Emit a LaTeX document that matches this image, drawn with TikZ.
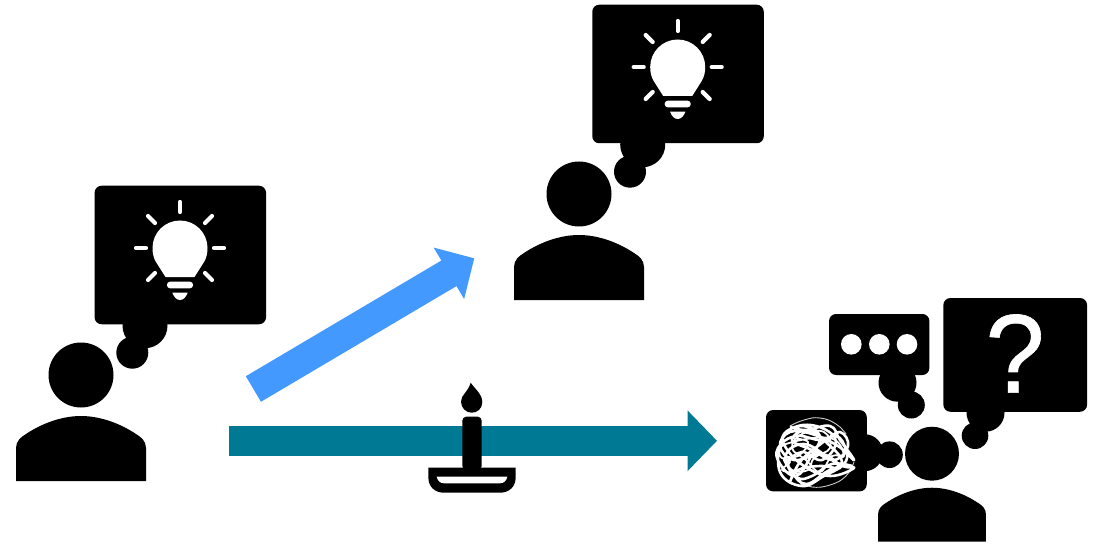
\documentclass[tikz,border=0pt]{standalone}
\usepackage{fontspec}
\setmainfont{Liberation Sans}
\newfontfamily\qfont[FakeBold=0.6]{Liberation Sans}
\usetikzlibrary{arrows.meta}
\definecolor{teal1}{HTML}{007A94}
\definecolor{blue1}{HTML}{4499FF}
\tikzset{
  x=1pt,y=-1pt,
  blob/.style={circle,fill=black,inner sep=0pt,minimum size=#1},
  bubble/.style={rectangle,fill=black,rounded corners=7pt,inner sep=0pt},
  wdot/.style={circle,fill=white,inner sep=0pt,minimum size=#1},
  ray/.style={white,line width=4.2pt,line cap=round},
  bigarrow/.style={line cap=butt},
  pics/person/.style={code={
    \node[blob=65pt,transform shape] (-head) at (0,0) {};
    \fill (-65,106) -- (-65,73) .. controls (-65,66) and (-60,62) .. (-55,59)
      .. controls (-40,49) and (-20,41) .. (0,41)
      .. controls (20,41) and (40,49) .. (55,59)
      .. controls (60,62) and (65,66) .. (65,73) -- (65,106) -- cycle;
  }},
  pics/idea/.style={code={
    \node[bubble,minimum width=171.5pt,minimum height=138.5pt] (-box) at (0,0) {};
    \node[blob=45pt] (-b1) at (-35.3,70.7) {};
    \node[blob=32pt] (-b2) at (-48,97.7) {};
    % bulb, relative to its globe at (0,-7)
    \begin{scope}[shift={(-0.3,-7)}]
      \fill[white] (-14.5,29) -- (-24,14) .. controls (-26.5,10) and (-27.5,5) .. (-27.5,0)
        arc[start angle=180,end angle=360,radius=27.5]
        .. controls (27.5,5) and (26.5,10) .. (24,14) -- (14.5,29) -- cycle;
      \fill[white,rounded corners=3pt] (-13,33.7) rectangle (13,40.3);
      \fill[white] (-7.7,44.7) -- (7.7,44.7) .. controls (6,49) and (3.5,52) .. (0,52)
        .. controls (-3.5,52) and (-6,49) .. (-7.7,44.7) -- cycle;
      \draw[ray] (0,-46) -- (0,-36);
      \draw[ray] (-44,0) -- (-34,0);
      \draw[ray] (34,0) -- (44,0);
      \draw[ray] (-32,-32) -- (-25,-25);
      \draw[ray] (32,-32) -- (25,-25);
      \draw[ray] (-32,32) -- (-25,25);
      \draw[ray] (32,32) -- (25,25);
    \end{scope}
  }}
}
\begin{document}
\begin{tikzpicture}
\useasboundingbox (0,0) rectangle (1102,545);
\fill[white] (0,0) rectangle (1102,545);

% arrows
\coordinate (blueS) at (253.4,389);
\coordinate (blueE) at (474.3,258.3);
\coordinate (tealS) at (229,440.8);
\coordinate (tealE) at (717,440.8);
\draw[bigarrow,blue1,line width=29.7pt,-{Triangle[length=29.5pt,width=58pt]}] (blueS) -- (blueE);
\draw[bigarrow,teal1,line width=30.3pt,-{Triangle[length=29.5pt,width=59pt]}] (tealS) -- (tealE);

% left thinker
\pic (p1) at (81,375) {person};
\pic (i1) at (180.3,255) {idea};
% top thinker
\pic (p2) at (579,194) {person};
\pic (i2) at (678,74) {idea};

% candle
\fill (470.7,382.7) .. controls (474,388) and (482.3,394) .. (482.3,402)
  .. controls (482.3,409) and (477,412.7) .. (471.7,412.7)
  .. controls (466,412.7) and (461,408) .. (461,401.5)
  .. controls (461,395) and (468,392) .. (470.7,382.7) -- cycle;
\fill[rounded corners=4pt] (462.3,470) -- (462.3,416.7) -- (481.7,416.7) -- (481.7,470) -- cycle;
\fill (428.3,467.7) -- (515.7,467.7) -- (515.7,477)
  .. controls (515.7,487) and (509,492.7) .. (500,492.7) -- (444,492.7)
  .. controls (435,492.7) and (428.3,487) .. (428.3,477) -- cycle;
\fill[white] (436.7,476.7) -- (507.3,476.7) .. controls (506.5,480.5) and (504,483.3) .. (500,483.3)
  -- (444,483.3) .. controls (440,483.3) and (437.5,480.5) .. (436.7,476.7) -- cycle;

% right person
\pic[scale=.83] (p3) at (932,453.7) {person};

% question bubble
\node[bubble,minimum width=143.7pt,minimum height=113.7pt] (qbox) at (1015.2,354.9) {};
\node[blob=38pt] (q1) at (985.5,412.7) {};
\node[blob=26.6pt] (q2) at (975,435.7) {};
\node[text=white,inner sep=0pt,font=\qfont\fontsize{112}{112}\selectfont] (qmark) at (1015,353.5) {\scalebox{.95}[1]{?}};

% dots bubble
\node[bubble,minimum width=100.3pt,minimum height=61pt] (dbox) at (879.2,344.5) {};
\node[blob=38pt] (d1) at (897.5,382.7) {};
\node[blob=27pt] (d2) at (911.3,405) {};
\node[wdot=20.6pt] (dot1) at (851.3,344.3) {};
\node[wdot=20.6pt] (dot2) at (879.3,344.3) {};
\node[wdot=20.6pt] (dot3) at (907,344.3) {};

% scribble bubble
\node[bubble,minimum width=100.7pt,minimum height=81.3pt] (sbox) at (816.4,450.7) {};
\node[blob=37pt] (s1) at (864.5,452.7) {};
\node[blob=26.6pt] (s2) at (889.5,454.7) {};
\begin{scope}[shift={(816,452)}]
  \draw[white!80!black,line width=.9pt,line cap=round]
    plot[smooth,tension=.8] coordinates {(-26,-26) (-12,-32) (4,-34) (20,-28) (30,-18)};
  \draw[white!80!black,line width=.9pt,line cap=round]
    plot[smooth,tension=.8] coordinates {(38,10) (30,24) (14,33) (-4,35) (-14,30)};
  \draw[white,line width=2.6pt,line cap=round,line join=round]
    plot[smooth,tension=.7] coordinates {
    (-25,-25) (-10,-22) (14,-26) (24,-12) (38,8) (22,-6) (-4,-18) (-26,-20)
    (-36,-6) (-22,8) (6,2) (26,14) (38,16) (14,24) (-12,14) (-30,-4)
    (-32,-18) (-14,-26) (4,-16) (-6,6) (-20,24) (-36,12) (-38,-4) (-20,-16)
    (6,-12) (24,-20) (32,-6) (18,8) (-4,-2) (-24,-12) (-8,-22) (12,-8)
    (26,10) (10,20) (-10,32) (-24,20) (-30,2) (-12,-8) (10,4) (24,16)
    (4,14) (-18,18) (-26,30) (-16,10) (2,-6) (20,-16) (30,-2) (28,12)
    (8,24) (-14,34) (-36,20) (-34,-12) (-18,-26) (6,-24) (20,-10) (6,8)
    (-14,0) (-28,12) (-18,26) (-4,24) (16,12) (36,14)};
  \draw[white,line width=1.8pt,line cap=round,line join=round]
    plot[smooth,tension=.7] coordinates {
    (-28,-14) (-8,-10) (-18,4) (-32,6) (-24,18) (-8,18) (-2,6) (14,-4)
    (8,-20) (-14,-18) (-24,-4) (-10,8) (4,20) (16,4) (28,4) (14,-14)
    (-30,-8) (-36,4) (-26,10) (-34,18) (-16,22)};
\end{scope}
\end{tikzpicture}
\end{document}
